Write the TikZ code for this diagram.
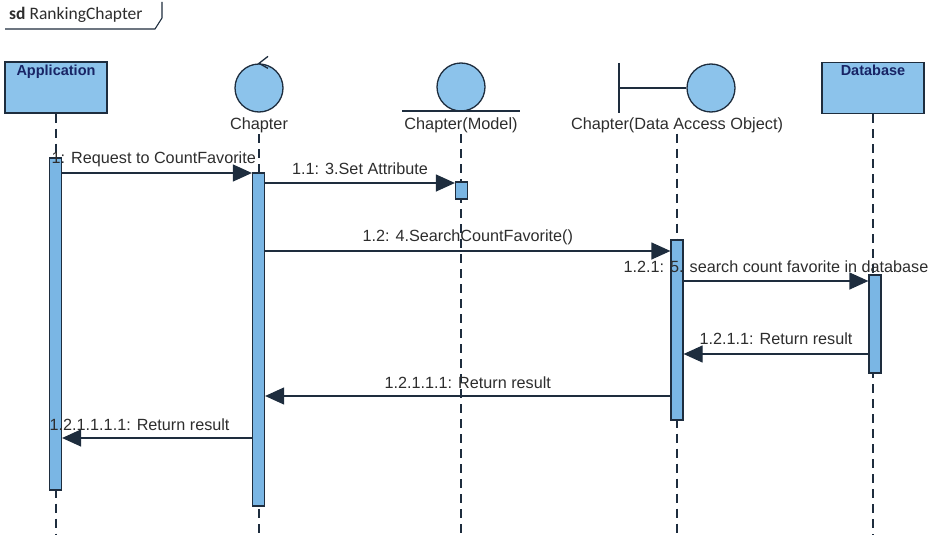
\documentclass[tikz,border=0pt]{standalone}
\usepackage{fontspec}
\setmainfont{Liberation Sans}
\newfontfamily\framefont{Carlito}
\usetikzlibrary{positioning, arrows.meta}
\definecolor{umlfill}{RGB}{140,195,235}
\definecolor{barfill}{RGB}{122,182,228}
\definecolor{umlline}{RGB}{30,45,62}
\definecolor{umltext}{RGB}{45,45,45}

\begin{document}
\begin{tikzpicture}[
    x=1pt, y=-1pt,
    headbox/.style={rectangle, draw=umlline, line width=1.3pt, fill=umlfill, minimum width=102pt, minimum height=51pt, inner sep=0pt},
    headtext/.style={font=\fontsize{14.5}{16}\selectfont\bfseries, text=umlline!80!blue, anchor=north, inner sep=3pt},
    icon/.style={circle, draw=umlline, line width=1.3pt, fill=umlfill, minimum size=48pt, inner sep=0pt},
    iconline/.style={draw=umlline, line width=1.3pt},
    lifelbl/.style={font=\fontsize{16.3}{18}\selectfont, text=umltext, inner sep=1pt},
    lifeline/.style={draw=umlline, line width=1.3pt, dash pattern=on 9pt off 6pt},
    actbar/.style={rectangle, draw=umlline, line width=1.2pt, fill=barfill, minimum width=12pt, inner sep=0pt},
    msg/.style={draw=umlline, line width=1.2pt, -{Triangle[length=19pt, width=17pt]}},
    msglbl/.style={font=\fontsize{16.2}{18}\selectfont, text=umltext, inner sep=1pt}
]
    \useasboundingbox (0,0) rectangle (929,535);

    % frame tab
    \node[font=\framefont\fontsize{17.5}{19}\selectfont, text=umltext, anchor=west, inner sep=0pt] (frame) at (9,15) {\textbf{sd} RankingChapter};
    \draw[umlline, line width=1.1pt] (5,29) -- (155,29) -- (162,18) -- (162,2);

    % lifeline heads
    \node[headbox, label={[headtext]north:Application}] (app) at (56,87.5) {};
    \node[icon] (chapicon) at (259,88) {};
    \draw[iconline] ([shift={(9,-7)}]chapicon.north) -- (chapicon.north) -- ++(9,5);
    \node[lifelbl, below=4pt of chapicon] (chaplbl) {Chapter};

    \node[icon] (modelicon) at (461,87) {};
    \draw[iconline] (402,111) -- (520,111);
    \node[lifelbl, below=5pt of modelicon] (modellbl) {Chapter(Model)};

    \node[icon] (daoicon) at (711,88) {};
    \coordinate (daowall) at (619,88);
    \coordinate (daohead) at (677,112);
    \draw[iconline] (daowall) -- (daoicon.west);
    \draw[iconline] ([yshift=25pt]daowall) -- ([yshift=-25pt]daowall);
    \node[lifelbl, below=4pt of daohead] (daolbl) {Chapter(Data Access Object)};

    \node[headbox, label={[headtext]north:Database}] (db) at (873,88) {};

    % lifelines
    \coordinate (bottom) at (0,535);
    \draw[lifeline] (app) -- (app |- bottom);
    \draw[lifeline] (chaplbl) -- (chaplbl |- bottom);
    \draw[lifeline] (modellbl) -- (modellbl |- bottom);
    \draw[lifeline] (daolbl) -- (daolbl |- bottom);
    \draw[lifeline] (db) -- (db |- bottom);

    % activations
    \node[actbar, minimum height=332pt] (appbar) at (55.5,324) {};
    \node[actbar, minimum height=333pt] (chapbar) at (258.5,339.5) {};
    \node[actbar, minimum height=17pt] (modelbar) at (461.5,190.5) {};
    \node[actbar, minimum height=180pt] (daobar) at (677,330) {};
    \node[actbar, minimum height=98pt] (dbbar) at (875,324) {};

    % messages
    \coordinate (m1) at (0,173);
    \coordinate (m2) at (0,183);
    \coordinate (m3) at (0,251);
    \coordinate (m4) at (0,281);
    \coordinate (m5) at (0,354);
    \coordinate (m6) at (0,396);
    \coordinate (m7) at (0,438);

    \draw[msg] (appbar.east |- m1) -- (chapbar.west |- m1)
        node[msglbl, pos=0, anchor=south west, xshift=-12pt, yshift=5pt] {1: Request to CountFavorite};
    \draw[msg] (chapbar.east |- m2) -- (modelbar.west |- m2)
        node[msglbl, midway, anchor=south, yshift=7pt] {1.1: 3.Set Attribute};
    \draw[msg] (chapbar.east |- m3) -- (daobar.west |- m3)
        node[msglbl, midway, anchor=south, yshift=5pt] {1.2: 4.SearchCountFavorite()};
    \draw[msg] (daobar.east |- m4) -- (dbbar.west |- m4)
        node[msglbl, midway, anchor=south, yshift=7pt] {1.2.1: 5. search count favorite in database};
    \draw[msg] (dbbar.west |- m5) -- (daobar.east |- m5)
        node[msglbl, midway, anchor=south, yshift=8pt] {1.2.1.1: Return result};
    \draw[msg] (daobar.west |- m6) -- (chapbar.east |- m6)
        node[msglbl, midway, anchor=south, yshift=6pt] {1.2.1.1.1: Return result};
    \draw[msg] (chapbar.west |- m7) -- (appbar.east |- m7)
        node[msglbl, pos=1, anchor=south west, xshift=-14pt, yshift=6pt] {1.2.1.1.1.1: Return result};
\end{tikzpicture}
\end{document}
